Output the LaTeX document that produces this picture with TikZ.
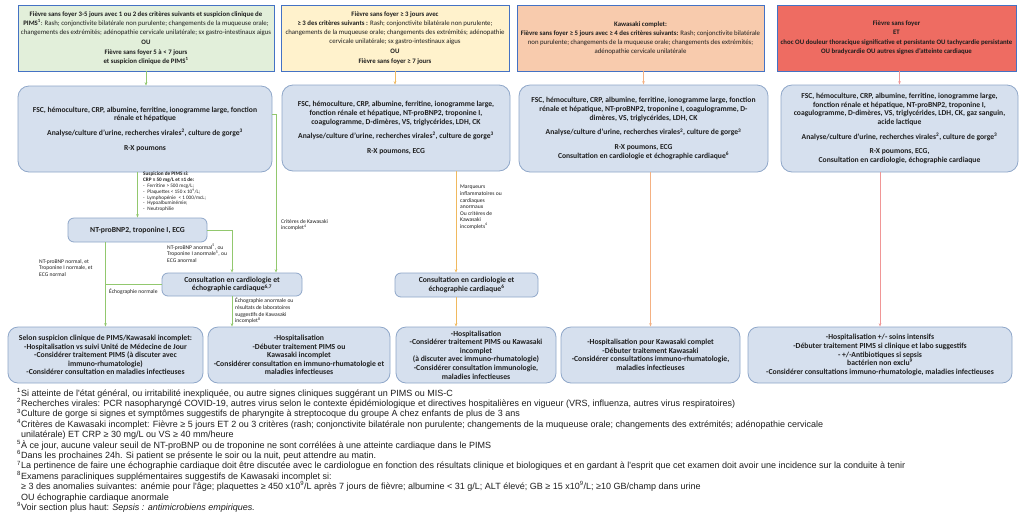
\documentclass[tikz,border=0pt]{standalone}
\usepackage{fontspec}
\setmainfont{Carlito}
\newfontfamily\fnfont{Liberation Sans}
\usetikzlibrary{arrows.meta,calc}
\definecolor{topborder}{RGB}{68,114,196}
\definecolor{greenfill}{RGB}{226,239,218}
\definecolor{yellowfill}{RGB}{255,242,204}
\definecolor{peachfill}{RGB}{248,203,173}
\definecolor{redfill}{RGB}{238,108,98}
\definecolor{bluefill}{RGB}{214,224,238}
\definecolor{blueborder}{RGB}{143,167,201}
\definecolor{lgreen}{RGB}{146,200,110}
\definecolor{lorange}{RGB}{240,185,95}
\definecolor{lpeach}{RGB}{244,177,131}
\definecolor{lred}{RGB}{240,150,150}
\definecolor{txt}{RGB}{30,30,30}
\tikzset{
  topbox/.style={draw=topborder, line width=0.9pt, inner sep=0pt, align=center, text=txt,
    font=\fontsize{6.8}{9}\selectfont},
  rbox/.style={draw=blueborder, fill=bluefill, line width=0.8pt, rounded corners=11pt, inner sep=0pt,
    align=center, text=txt, font=\bfseries\fontsize{7.6}{8.7}\selectfont},
  sbox/.style={draw=blueborder, fill=bluefill, line width=0.8pt, rounded corners=6pt, inner sep=0pt,
    align=center, text=txt, font=\bfseries\fontsize{7.7}{8.6}\selectfont},
  bbox/.style={draw=blueborder, fill=bluefill, line width=0.8pt, rounded corners=10pt, inner sep=0pt,
    align=center, text=txt, font=\bfseries\fontsize{7.7}{8.6}\selectfont},
  lbl/.style={anchor=north west, inner sep=0pt, align=left, text=txt, font=\fontsize{5.6}{6.6}\selectfont},
  conn/.style={line width=0.6pt, -{Stealth[length=3.5pt,width=2.6pt]}},
  plain/.style={line width=0.6pt},
}
\begin{document}
\begin{tikzpicture}[x=1pt,y=-1pt]
\useasboundingbox[fill=white] (0,0) rectangle (1024,515);

% ---- top boxes
\node[topbox, fill=greenfill, minimum width=256pt, minimum height=66pt] (A) at (146,38) {%
\textbf{Fièvre sans foyer 3-5 jours avec 1 ou 2 des critères suivants et suspicion clinique de}\\
\textbf{PIMS\textsuperscript{1}}: Rash; conjonctivite bilatérale non purulente; changements de la muqueuse orale;\\
changements des extrémités; adénopathie cervicale unilatérale; sx gastro-intestinaux aigus\\[1pt]
\textbf{OU}\\[1pt]
\textbf{Fièvre sans foyer 5 à < 7 jours}\\
\textbf{et suspicion clinique de PIMS\textsuperscript{1}}};

\node[topbox, fill=yellowfill, minimum width=228pt, minimum height=66pt] (B) at (395,38) {%
\textbf{Fièvre sans foyer ≥ 3 jours avec}\\
\textbf{≥ 3 des critères suivants :} Rash; conjonctivite bilatérale non purulente;\\
changements de la muqueuse orale; changements des extrémités; adénopathie\\
cervicale unilatérale; sx gastro-intestinaux aigus\\[1pt]
\textbf{OU}\\[1pt]
\textbf{Fièvre sans foyer ≥ 7 jours}};

\node[topbox, fill=peachfill, minimum width=247pt, minimum height=66pt] (C) at (640.5,38) {%
\textbf{Kawasaki complet:}\\
\textbf{Fièvre sans foyer ≥ 5 jours avec ≥ 4 des critères suivants:} Rash; conjonctivite bilatérale\\
non purulente; changements de la muqueuse orale; changements des extrémités;\\
adénopathie cervicale unilatérale};

\node[topbox, fill=redfill, minimum width=239pt, minimum height=66pt, font=\bfseries\fontsize{6.8}{9}\selectfont] (D) at (896.5,38) {%
Fièvre sans foyer\\
ET\\[1pt]
choc OU douleur thoracique significative et persistante OU tachycardie persistante\\
OU bradycardie OU autres signes d'atteinte cardiaque};

% ---- second row
\node[rbox, minimum width=254pt, minimum height=86pt] (E) at (145,129) {%
FSC, hémoculture, CRP, albumine, ferritine, ionogramme large, fonction\\
rénale et hépatique\\[6pt]
Analyse/culture d'urine, recherches virales\textsuperscript{2}, culture de gorge\textsuperscript{3}\\[6pt]
R-X poumons};

\node[rbox, minimum width=228pt, minimum height=86pt] (F) at (396,128) {%
FSC, hémoculture, CRP, albumine, ferritine, ionogramme large,\\
fonction rénale et hépatique, NT-proBNP2, troponine I,\\
coagulogramme, D-dimères, VS, triglycérides, LDH, CK\\[6pt]
Analyse/culture d'urine, recherches virales\textsuperscript{2}, culture de gorge\textsuperscript{3}\\[6pt]
R-X poumons, ECG};

\node[rbox, minimum width=249pt, minimum height=87pt] (G) at (643.5,128.5) {%
FSC, hémoculture, CRP, albumine, ferritine, ionogramme large, fonction\\
rénale et hépatique, NT-proBNP2, troponine I, coagulogramme, D-\\
dimères, VS, triglycérides, LDH, CK\\[6pt]
Analyse/culture d'urine, recherches virales\textsuperscript{2}, culture de gorge\textsuperscript{3}\\[6pt]
R-X poumons, ECG\\
Consultation en cardiologie et échographie cardiaque\textsuperscript{6}};

\node[rbox, minimum width=237pt, minimum height=87pt] (H) at (899.5,128.5) {%
FSC, hémoculture, CRP, albumine, ferritine, ionogramme large,\\
fonction rénale et hépatique, NT-proBNP2, troponine I,\\
coagulogramme, D-dimères, VS, triglycérides, LDH, CK, gaz sanguin,\\
acide lactique\\[6pt]
Analyse/culture d'urine, recherches virales\textsuperscript{2}, culture de gorge\textsuperscript{3}\\[6pt]
R-X poumons, ECG,\\
Consultation en cardiologie, échographie cardiaque};

% ---- middle boxes
\node[sbox, minimum width=139pt, minimum height=24pt] (NT) at (137.5,230) {NT-proBNP2, troponine I, ECG};
\node[sbox, minimum width=140pt, minimum height=23pt] (K1) at (232,284.5) {Consultation en cardiologie et\\ échographie cardiaque\textsuperscript{6,7}};
\node[sbox, minimum width=143pt, minimum height=24pt] (K2) at (466.5,285) {Consultation en cardiologie et\\ échographie cardiaque\textsuperscript{6}};

% ---- bottom boxes
\node[bbox, minimum width=195pt, minimum height=56pt] (R1) at (105.5,355) {%
Selon suspicion clinique de PIMS/Kawasaki incomplet:\\
-Hospitalisation vs suivi Unité de Médecine de Jour\\
-Considérer traitement PIMS (à discuter avec\\
immuno-rhumatologie)\\
-Considérer consultation en maladies infectieuses};
\node[bbox, minimum width=182pt, minimum height=56pt] (R2) at (299,355) {%
-Hospitalisation\\
-Débuter traitement PIMS ou\\
Kawasaki incomplet\\
-Considérer consultation en immuno-rhumatologie et\\
maladies infectieuses};
\node[bbox, minimum width=160pt, minimum height=56pt] (R3) at (476,355) {%
-Hospitalisation\\
-Considérer traitement PIMS ou Kawasaki\\
incomplet\\
(à discuter avec immuno-rhumatologie)\\
-Considérer consultation immunologie,\\
maladies infectieuses};
\node[bbox, minimum width=179pt, minimum height=56pt] (R4) at (650.5,355) {%
-Hospitalisation pour Kawasaki complet\\
-Débuter traitement Kawasaki\\
-Considérer consultations immuno-rhumatologie,\\
maladies infectieuses};
\node[bbox, minimum width=264pt, minimum height=56pt] (R5) at (880,355) {%
-Hospitalisation +/- soins intensifs\\
-Débuter traitement PIMS si clinique et labo suggestifs\\
- +/-Antibiotiques si sepsis\\
bactérien non exclu\textsuperscript{9}\\
-Considérer consultations immuno-rhumatologie, maladies infectieuses};

% ---- connectors column 1 (green)
\begin{scope}[draw=lgreen]
\draw[conn] (A.south) -- (A.south |- E.north);
\draw[conn] (NT.north |- E.south) -- (NT.north);
\draw[conn] ([yshift=15pt]E.east) -| ([xshift=44pt]K1.north);
\draw[conn] (NT.east) -| (K1.north);
\draw[conn] (NT.south -| R1.north) -- (R1.north);
\draw[plain] (K1.west) -- (K1.west -| R1.north);
\draw[conn] (K1.south) -- (K1.south |- R2.north);
\end{scope}
% column 2 (orange)
\begin{scope}[draw=lorange]
\draw[conn] (B.south) -- (B.south |- F.north);
\draw[conn] ([xshift=-10.5pt]K2.north |- F.south) -- ([xshift=-10.5pt]K2.north);
\draw[conn] ([xshift=-10.5pt]K2.south) -- ([xshift=-10.5pt]K2.south |- R3.north);
\end{scope}
% column 3 (peach)
\begin{scope}[draw=lpeach]
\draw[conn] (G.north |- C.south) -- (G.north);
\draw[conn] (R4.north |- G.south) -- (R4.north);
\end{scope}
% column 4 (red)
\begin{scope}[draw=lred]
\draw[conn] (H.north |- D.south) -- (H.north);
\draw[conn] (R5.north |- H.south) -- (R5.north);
\end{scope}

% ---- labels
\node[lbl, font=\fontsize{5.2}{5.8}\selectfont] (L1) at (143,172) {%
\textbf{Suspicion de PIMS si:}\\
\textbf{CRP ≥ 50 mg/L et ≥1 de:}\\
-\enspace Ferritine > 500 mcg/L;\\
-\enspace Plaquettes < 150 x 10\textsuperscript{9}/L;\\
-\enspace Lymphopénie\enspace < 1 000/mcL;\\
-\enspace Hypoalbuminémie;\\
-\enspace Neutrophilie};
\node[lbl] (L2) at (281,219) {Critères de Kawasaki\\ incomplet\textsuperscript{4}};
\node[lbl] (L3) at (167,244) {NT-proBNP anormal\textsuperscript{5}, ou\\ Troponine I anormale\textsuperscript{5}, ou\\ ECG anormal};
\node[lbl] (L4) at (39,259) {NT-proBNP normal, et\\ Troponine I normale, et\\ ECG normal};
\node[lbl] (L5) at (109,289) {Échographie normale};
\node[lbl] (L6) at (235,298) {Échographie anormale ou\\ résultats de laboratoires\\ suggestifs de Kawasaki\\ incomplet\textsuperscript{8}};
\node[lbl] (L7) at (460,185) {Marqueurs\\ inflammatoires ou\\ cardiaques\\ anormaux\\ Ou critères de\\ Kawasaki\\ incomplets\textsuperscript{4}};

% ---- footnotes
\node[anchor=north west, inner sep=0pt, align=left, text=txt, font=\fnfont\fontsize{9}{10.4}\selectfont] (FN) at (17,388) {%
\textsuperscript{1}Si atteinte de l'état général, ou irritabilité inexpliquée, ou autre signes cliniques suggérant un PIMS ou MIS-C\\
\textsuperscript{2}Recherches virales: PCR nasopharyngé COVID-19, autres virus selon le contexte épidémiologique et directives hospitalières en vigueur (VRS, influenza, autres virus respiratoires)\\
\textsuperscript{3}Culture de gorge si signes et symptômes suggestifs de pharyngite à streptocoque du groupe A chez enfants de plus de 3 ans\\
\textsuperscript{4}Critères de Kawasaki incomplet: Fièvre ≥ 5 jours ET 2 ou 3 critères (rash; conjonctivite bilatérale non purulente; changements de la muqueuse orale; changements des extrémités; adénopathie cervicale\\
\hspace*{4pt}unilatérale) ET CRP ≥ 30 mg/L ou VS ≥ 40 mm/heure\\
\textsuperscript{5}À ce jour, aucune valeur seuil de NT-proBNP ou de troponine ne sont corrélées à une atteinte cardiaque dans le PIMS\\
\textsuperscript{6}Dans les prochaines 24h. Si patient se présente le soir ou la nuit, peut attendre au matin.\\
\textsuperscript{7}La pertinence de faire une échographie cardiaque doit être discutée avec le cardiologue en fonction des résultats clinique et biologiques et en gardant à l'esprit que cet examen doit avoir une incidence sur la conduite à tenir\\
\textsuperscript{8}Examens paracliniques supplémentaires suggestifs de Kawasaki incomplet si:\\
\hspace*{4pt}≥ 3 des anomalies suivantes: anémie pour l'âge; plaquettes ≥ 450 x10\textsuperscript{9}/L après 7 jours de fièvre; albumine < 31 g/L; ALT élevé; GB ≥ 15 x10\textsuperscript{9}/L; ≥10 GB/champ dans urine\\
\hspace*{4pt}OU échographie cardiaque anormale\\
\textsuperscript{9}Voir section plus haut: \textit{Sepsis : antimicrobiens empiriques.}};
\end{tikzpicture}
\end{document}
